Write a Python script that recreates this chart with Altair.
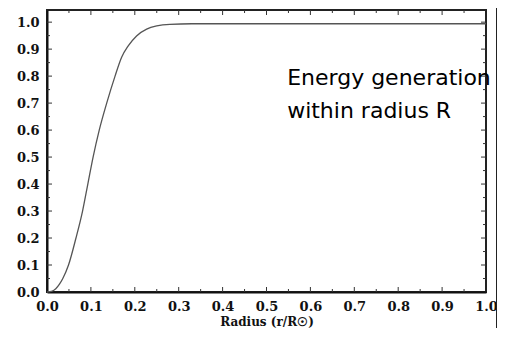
import altair as alt
import pandas as pd

# curve: fraction of energy generated within radius r
radius = [0.0, 0.01, 0.02, 0.028, 0.036, 0.049, 0.066, 0.081, 0.093, 0.105, 0.119, 0.136,
          0.155, 0.170, 0.185, 0.204, 0.227, 0.250, 0.280, 0.330, 0.40, 0.50, 0.60, 0.70,
          0.80, 0.90, 1.0]
energy = [0.0, 0.002, 0.012, 0.028, 0.05, 0.10, 0.20, 0.30, 0.40, 0.50, 0.60, 0.70,
          0.80, 0.87, 0.912, 0.949, 0.974, 0.986, 0.992, 0.994, 0.994, 0.994, 0.994, 0.994,
          0.994, 0.994, 0.994]

x_ticks = [round(0.05 * i, 2) for i in range(1, 20)]
y_ticks = [round(0.05 * i, 2) for i in range(1, 21)]
label_values = [round(0.1 * i, 1) for i in range(11)]
annotation = ["Energy generation", "within radius R"]

X_MAX, Y_MAX = 1.0, 1.045
W, H = 439, 282

curve_df = pd.DataFrame({"r": radius, "v": energy})

xs = alt.Scale(domain=[0, X_MAX], nice=False)
ys = alt.Scale(domain=[0, Y_MAX], nice=False)

label_font = "DejaVu Serif"

x_axis = alt.Axis(values=label_values, format=".1f",
                  title="Radius (r/R☉)", grid=False, ticks=False,
                  labelOverlap=False, labelFlush=False,
                  labelFont=label_font, labelFontWeight="bold", labelFontSize=13,
                  labelColor="#111", labelPadding=8,
                  titleFont=label_font, titleFontWeight="bold", titleFontSize=12,
                  titleColor="#111", titlePadding=3,
                  domainColor="#111", domainWidth=2)
y_axis = alt.Axis(values=label_values, format=".1f",
                  title=None, grid=False, ticks=False,
                  labelOverlap=False, labelFlush=False,
                  labelFont=label_font, labelFontWeight="bold", labelFontSize=13,
                  labelColor="#111", labelPadding=8,
                  domainColor="#111", domainWidth=2)

curve = alt.Chart(curve_df).mark_line(color="#555555", strokeWidth=1.3,
                                      interpolate="monotone").encode(
    x=alt.X("r:Q", scale=xs, axis=x_axis),
    y=alt.Y("v:Q", scale=ys, axis=y_axis),
)

# inward tick marks on all four sides
xlen_major, xlen_minor = 5 / H * Y_MAX, 3 / H * Y_MAX
ylen_major, ylen_minor = 5 / W * X_MAX, 3 / W * X_MAX
rows = []
for t in x_ticks:
    major = abs(round(t * 10) - t * 10) < 1e-6
    L = xlen_major if major else xlen_minor
    rows.append({"x": t, "x2": t, "y": 0, "y2": L})
    rows.append({"x": t, "x2": t, "y": Y_MAX, "y2": Y_MAX - L})
for t in y_ticks:
    major = abs(round(t * 10) - t * 10) < 1e-6
    L = ylen_major if major else ylen_minor
    rows.append({"x": 0, "x2": L, "y": t, "y2": t})
    rows.append({"x": X_MAX, "x2": X_MAX - L, "y": t, "y2": t})
ticks_df = pd.DataFrame(rows)

ticks = alt.Chart(ticks_df).mark_rule(color="#333", strokeWidth=1).encode(
    x=alt.X("x:Q", scale=xs, axis=x_axis), x2="x2:Q",
    y=alt.Y("y:Q", scale=ys, axis=y_axis), y2="y2:Q",
)

text_df = pd.DataFrame({"r": [0.547], "v": [0.767], "t": [annotation]})
text = alt.Chart(text_df).mark_text(
    align="left", baseline="alphabetic", font="DejaVu Sans", fontSize=22,
    lineHeight=33, color="#000",
).encode(x=alt.X("r:Q", scale=xs, axis=x_axis), y=alt.Y("v:Q", scale=ys, axis=y_axis),
         text="t")

edge = alt.Chart(curve_df).mark_rule(color="#222", strokeWidth=2).encode(
    x=alt.value(W + 11), y=alt.value(-12), y2=alt.value(H + 44)
)

chart = alt.layer(curve, ticks, text, edge).properties(
    width=W, height=H,
    autosize=alt.AutoSizeParams(type="none"),
    padding={"left": 39, "top": 2, "right": 11, "bottom": 36},
    background="white",
).configure_view(stroke="#222", strokeWidth=2)

chart.save("out.html", embed_options={"renderer": "svg", "actions": False})
